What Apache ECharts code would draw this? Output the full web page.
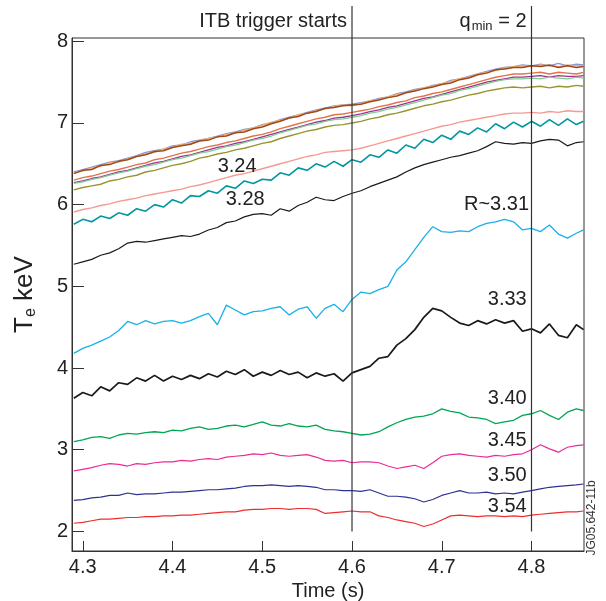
<!DOCTYPE html>
<html>
<head>
<meta charset="utf-8">
<title>Te profiles, ITB trigger</title>
<script src="https://cdn.jsdelivr.net/npm/echarts@6/dist/echarts.min.js"></script>
<style>
  html, body { margin: 0; padding: 0; background: #fff; }
  #chart { width: 606px; height: 601px; }
</style>
</head>
<body>
<div id="chart"></div>
<script>
// time base (s)
const time = [
  4.29, 4.30, 4.31, 4.32, 4.33, 4.34, 4.35, 4.36, 4.37, 4.38,
  4.39, 4.40, 4.41, 4.42, 4.43, 4.44, 4.45, 4.46, 4.47, 4.48,
  4.49, 4.50, 4.51, 4.52, 4.53, 4.54, 4.55, 4.56, 4.57, 4.58,
  4.59, 4.60, 4.61, 4.62, 4.63, 4.64, 4.65, 4.66, 4.67, 4.68,
  4.69, 4.70, 4.71, 4.72, 4.73, 4.74, 4.75, 4.76, 4.77, 4.78,
  4.79, 4.80, 4.81, 4.82, 4.83, 4.84, 4.85, 4.858
];

// Te (keV), one array per ECE channel
const teBlue = [
  6.40, 6.43, 6.46, 6.49, 6.52, 6.54, 6.57, 6.60, 6.64, 6.66,
  6.68, 6.72, 6.73, 6.77, 6.79, 6.81, 6.84, 6.87, 6.89, 6.92,
  6.94, 6.98, 7.00, 7.04, 7.07, 7.10, 7.13, 7.16, 7.18, 7.21,
  7.22, 7.23, 7.25, 7.27, 7.30, 7.32, 7.36, 7.38, 7.41, 7.43,
  7.46, 7.48, 7.52, 7.54, 7.57, 7.60, 7.63, 7.66, 7.68, 7.69,
  7.71, 7.70, 7.72, 7.70, 7.73, 7.70, 7.72, 7.71
];
const teLightOrange = [
  6.39, 6.41, 6.45, 6.47, 6.51, 6.52, 6.56, 6.59, 6.62, 6.64,
  6.68, 6.70, 6.74, 6.75, 6.78, 6.81, 6.83, 6.86, 6.88, 6.91,
  6.94, 6.97, 7.01, 7.03, 7.06, 7.10, 7.12, 7.15, 7.17, 7.20,
  7.22, 7.21, 7.24, 7.27, 7.29, 7.32, 7.35, 7.37, 7.40, 7.43,
  7.45, 7.48, 7.51, 7.54, 7.56, 7.60, 7.62, 7.64, 7.67, 7.69,
  7.70, 7.69, 7.71, 7.70, 7.69, 7.71, 7.70, 7.70
];
const teBrown = [
  6.38, 6.42, 6.43, 6.48, 6.49, 6.53, 6.55, 6.59, 6.61, 6.65,
  6.66, 6.70, 6.72, 6.74, 6.78, 6.79, 6.83, 6.84, 6.88, 6.89,
  6.93, 6.95, 6.99, 7.02, 7.06, 7.08, 7.12, 7.14, 7.18, 7.19,
  7.21, 7.22, 7.23, 7.26, 7.28, 7.31, 7.33, 7.37, 7.39, 7.42,
  7.44, 7.47, 7.49, 7.53, 7.55, 7.59, 7.61, 7.65, 7.66, 7.68,
  7.68, 7.70, 7.69, 7.71, 7.68, 7.70, 7.68, 7.69
];
const tePurple = [
  6.27, 6.29, 6.32, 6.34, 6.37, 6.40, 6.42, 6.45, 6.48, 6.51,
  6.53, 6.56, 6.59, 6.61, 6.64, 6.67, 6.70, 6.72, 6.75, 6.77,
  6.80, 6.83, 6.86, 6.89, 6.92, 6.95, 6.98, 7.01, 7.03, 7.06,
  7.07, 7.09, 7.11, 7.14, 7.16, 7.19, 7.21, 7.24, 7.27, 7.30,
  7.32, 7.35, 7.38, 7.41, 7.44, 7.47, 7.50, 7.52, 7.54, 7.56,
  7.56, 7.57, 7.58, 7.56, 7.58, 7.57, 7.57, 7.58
];
const teLightGreen = [
  6.26, 6.28, 6.31, 6.33, 6.36, 6.39, 6.41, 6.44, 6.47, 6.49,
  6.52, 6.55, 6.57, 6.60, 6.63, 6.65, 6.68, 6.71, 6.73, 6.76,
  6.79, 6.81, 6.84, 6.88, 6.91, 6.94, 6.97, 6.99, 7.02, 7.04,
  7.05, 7.07, 7.09, 7.12, 7.14, 7.17, 7.19, 7.22, 7.25, 7.28,
  7.31, 7.34, 7.36, 7.40, 7.42, 7.45, 7.48, 7.51, 7.53, 7.54,
  7.54, 7.55, 7.54, 7.56, 7.55, 7.54, 7.56, 7.55
];
const teCoral = [
  6.30, 6.33, 6.35, 6.38, 6.41, 6.43, 6.46, 6.49, 6.51, 6.55,
  6.57, 6.60, 6.63, 6.65, 6.68, 6.71, 6.73, 6.76, 6.78, 6.81,
  6.84, 6.86, 6.89, 6.93, 6.96, 6.99, 7.02, 7.05, 7.07, 7.10,
  7.11, 7.13, 7.15, 7.17, 7.20, 7.22, 7.25, 7.27, 7.31, 7.33,
  7.36, 7.38, 7.41, 7.44, 7.47, 7.50, 7.53, 7.56, 7.58, 7.60,
  7.60, 7.61, 7.62, 7.60, 7.62, 7.61, 7.60, 7.62
];
const teOlive = [
  6.18, 6.21, 6.23, 6.25, 6.29, 6.31, 6.34, 6.36, 6.40, 6.42,
  6.45, 6.48, 6.50, 6.53, 6.57, 6.59, 6.62, 6.64, 6.67, 6.69,
  6.72, 6.75, 6.77, 6.81, 6.84, 6.87, 6.90, 6.92, 6.95, 6.97,
  6.98, 7.00, 7.02, 7.05, 7.07, 7.10, 7.12, 7.15, 7.18, 7.21,
  7.23, 7.26, 7.28, 7.31, 7.34, 7.36, 7.39, 7.41, 7.43, 7.44,
  7.43, 7.44, 7.45, 7.43, 7.45, 7.44, 7.46, 7.45
];
const tePink = [
  5.91, 5.94, 5.96, 5.99, 6.01, 6.04, 6.06, 6.08, 6.11, 6.13,
  6.15, 6.17, 6.19, 6.22, 6.24, 6.27, 6.30, 6.33, 6.36, 6.38,
  6.41, 6.44, 6.47, 6.50, 6.53, 6.56, 6.59, 6.61, 6.64, 6.65,
  6.66, 6.67, 6.69, 6.72, 6.75, 6.78, 6.81, 6.84, 6.87, 6.90,
  6.93, 6.96, 6.98, 7.01, 7.03, 7.05, 7.07, 7.09, 7.11, 7.12,
  7.12, 7.13, 7.12, 7.14, 7.13, 7.15, 7.14, 7.14
];
const teTeal = [
  5.76, 5.82, 5.79, 5.86, 5.83, 5.90, 5.87, 5.95, 5.92, 6.00,
  5.97, 6.06, 6.02, 6.11, 6.10, 6.17, 6.14, 6.23, 6.20, 6.29,
  6.26, 6.31, 6.30, 6.39, 6.36, 6.45, 6.42, 6.50, 6.46, 6.53,
  6.47, 6.55, 6.52, 6.61, 6.58, 6.67, 6.63, 6.73, 6.69, 6.80,
  6.76, 6.85, 6.80, 6.90, 6.86, 6.94, 6.89, 6.99, 6.93, 7.01,
  6.95, 7.02, 6.96, 7.04, 6.97, 7.05, 6.98, 7.02
];
const teBlackUpper = [
  5.27, 5.30, 5.33, 5.38, 5.41, 5.46, 5.53, 5.55, 5.54, 5.56,
  5.58, 5.60, 5.62, 5.61, 5.64, 5.69, 5.72, 5.78, 5.80, 5.85,
  5.88, 5.89, 5.87, 5.95, 5.92, 5.99, 6.03, 6.09, 6.06, 6.05,
  6.10, 6.14, 6.17, 6.22, 6.26, 6.30, 6.34, 6.40, 6.45, 6.49,
  6.52, 6.55, 6.58, 6.60, 6.63, 6.66, 6.71, 6.77, 6.75, 6.74,
  6.76, 6.75, 6.78, 6.80, 6.79, 6.72, 6.76, 6.77
];
const teR331 = [
  4.18, 4.24, 4.28, 4.33, 4.38, 4.46, 4.57, 4.53, 4.58, 4.54,
  4.57, 4.58, 4.55, 4.58, 4.63, 4.67, 4.53, 4.77, 4.71, 4.65,
  4.69, 4.70, 4.73, 4.75, 4.65, 4.72, 4.75, 4.61, 4.73, 4.78,
  4.69, 4.84, 4.93, 4.91, 4.96, 5.00, 5.20, 5.30, 5.45, 5.60,
  5.73, 5.67, 5.66, 5.68, 5.67, 5.73, 5.77, 5.79, 5.82, 5.79,
  5.69, 5.71, 5.67, 5.75, 5.64, 5.59, 5.65, 5.69
];
const teR333 = [
  3.63, 3.70, 3.66, 3.77, 3.72, 3.82, 3.80, 3.88, 3.84, 3.91,
  3.84, 3.90, 3.86, 3.91, 3.87, 3.93, 3.89, 3.96, 3.92, 3.98,
  3.90, 3.95, 3.91, 3.97, 3.92, 3.95, 3.88, 3.94, 3.90, 3.93,
  3.84, 3.94, 3.98, 4.02, 4.12, 4.14, 4.28, 4.36, 4.47, 4.62,
  4.73, 4.70, 4.62, 4.55, 4.52, 4.58, 4.54, 4.59, 4.55, 4.58,
  4.45, 4.48, 4.43, 4.54, 4.40, 4.37, 4.53, 4.47
];
const teR340 = [
  3.10, 3.12, 3.15, 3.16, 3.14, 3.18, 3.20, 3.19, 3.21, 3.22,
  3.21, 3.24, 3.23, 3.26, 3.28, 3.25, 3.26, 3.29, 3.30, 3.28,
  3.31, 3.34, 3.30, 3.29, 3.32, 3.29, 3.28, 3.30, 3.25, 3.23,
  3.22, 3.20, 3.18, 3.19, 3.22, 3.28, 3.33, 3.37, 3.40, 3.41,
  3.44, 3.50, 3.47, 3.45, 3.40, 3.39, 3.37, 3.32, 3.34, 3.36,
  3.42, 3.44, 3.48, 3.42, 3.37, 3.46, 3.50, 3.48
];
const teR345 = [
  2.74, 2.76, 2.78, 2.81, 2.83, 2.82, 2.80, 2.83, 2.82, 2.84,
  2.85, 2.85, 2.87, 2.86, 2.88, 2.89, 2.88, 2.91, 2.92, 2.93,
  2.95, 2.94, 2.96, 2.93, 2.92, 2.93, 2.94, 2.91, 2.87, 2.86,
  2.87, 2.84, 2.85, 2.85, 2.84, 2.80, 2.77, 2.79, 2.81, 2.77,
  2.84, 2.92, 2.94, 2.95, 2.93, 2.92, 2.91, 2.93, 2.92, 2.94,
  2.95, 3.00, 3.06, 3.01, 2.97, 3.03, 3.05, 3.06
];
const teR350 = [
  2.38, 2.39, 2.41, 2.42, 2.44, 2.44, 2.47, 2.45, 2.46, 2.46,
  2.47, 2.48, 2.48, 2.49, 2.50, 2.51, 2.51, 2.52, 2.53, 2.55,
  2.56, 2.56, 2.57, 2.56, 2.55, 2.56, 2.55, 2.54, 2.51, 2.51,
  2.50, 2.50, 2.49, 2.51, 2.47, 2.43, 2.43, 2.42, 2.40, 2.36,
  2.39, 2.44, 2.47, 2.50, 2.47, 2.47, 2.48, 2.46, 2.47, 2.46,
  2.48, 2.50, 2.52, 2.54, 2.55, 2.56, 2.57, 2.58
];
const teR354 = [
  2.10, 2.11, 2.13, 2.15, 2.15, 2.16, 2.17, 2.17, 2.18, 2.18,
  2.19, 2.19, 2.20, 2.20, 2.21, 2.22, 2.23, 2.24, 2.24, 2.26,
  2.27, 2.27, 2.28, 2.28, 2.27, 2.28, 2.28, 2.27, 2.22, 2.23,
  2.24, 2.25, 2.24, 2.24, 2.19, 2.17, 2.14, 2.12, 2.10, 2.06,
  2.09, 2.14, 2.19, 2.20, 2.19, 2.18, 2.19, 2.19, 2.18, 2.19,
  2.18, 2.20, 2.21, 2.22, 2.23, 2.24, 2.24, 2.25
];

const xTicks = [4.3, 4.4, 4.5, 4.6, 4.7, 4.8];
const yTicks = [2, 3, 4, 5, 6, 7, 8];
const markerTimes = [4.6, 4.8];
const radiusLabels = ['3.24', '3.28', 'R~3.31', '3.33', '3.40', '3.45', '3.50', '3.54'];

const FONT = '"Liberation Sans", Arial, Helvetica, sans-serif';
const INK = '#222';

const chart = echarts.init(document.getElementById('chart'), null, { renderer: 'canvas' });

// noisier channels get a slightly heavier stroke, as in the original plot
const traces = [
  { data: teBlue, color: '#8c93d8', w: 1.3 },
  { data: teLightOrange, color: '#f6b066', w: 1.3 },
  { data: teBrown, color: '#9a4a1c', w: 1.5 },
  { data: tePurple, color: '#a03092', w: 1.3 },
  { data: teLightGreen, color: '#7ccf90', w: 1.3 },
  { data: teCoral, color: '#e0744a', w: 1.4 },
  { data: teOlive, color: '#9a9430', w: 1.4 },
  { data: tePink, color: '#f59a92', w: 1.4 },
  { data: teTeal, color: '#00979e', w: 1.6 },
  { data: teBlackUpper, color: '#1a1a1a', w: 1.2 },
  { data: teR331, color: '#1ab0e8', w: 1.3 },
  { data: teR333, color: '#1a1a1a', w: 1.7 },
  { data: teR340, color: '#00a651', w: 1.3 },
  { data: teR345, color: '#ec2b96', w: 1.2 },
  { data: teR350, color: '#2e3192', w: 1.2 },
  { data: teR354, color: '#ed2e2e', w: 1.2 }
];

const pairs = vals => time.map((t, i) => [t, vals[i]]);

const axisLine = { show: true, lineStyle: { color: '#333', width: 1 } };

chart.setOption({
  animation: false,
  grid: {
    left: 72, right: 22, top: 38, bottom: 50,
    show: true, borderColor: '#333', borderWidth: 1,
    outerBoundsMode: 'none'
  },
  xAxis: {
    type: 'value',
    min: 4.288,
    max: 4.8585,
    name: 'Time (s)',
    nameLocation: 'middle',
    nameGap: 26,
    nameTextStyle: { fontFamily: FONT, fontSize: 20, color: INK },
    axisLine,
    axisTick: { show: true, inside: true, length: 10, customValues: xTicks, lineStyle: { color: '#333' } },
    axisLabel: { customValues: xTicks, formatter: v => v.toFixed(1), fontFamily: FONT, fontSize: 20, color: INK, margin: 6 },
    splitLine: { show: false }
  },
  yAxis: {
    type: 'value',
    min: 1.76,
    max: 8.04,
    name: '{a|T}{s|e}{a| keV}',
    nameLocation: 'middle',
    nameRotate: 90,
    nameGap: 33,
    nameTextStyle: {
      fontFamily: FONT, color: INK,
      rich: {
        a: { fontFamily: FONT, fontSize: 26, color: INK },
        s: { fontFamily: FONT, fontSize: 16, color: INK, padding: [13, 0, 0, 0] }
      }
    },
    axisLine,
    axisTick: { show: true, inside: true, length: 12, customValues: yTicks, lineStyle: { color: '#333' } },
    axisLabel: { customValues: yTicks, fontFamily: FONT, fontSize: 20, color: INK, margin: 4 },
    splitLine: { show: false }
  },
  series: traces.map(tr => ({
    type: 'line',
    data: pairs(tr.data),
    symbol: 'none',
    clip: true,
    lineStyle: { color: tr.color, width: tr.w },
    itemStyle: { color: tr.color },
    emphasis: { disabled: true },
    silent: true
  }))
});

// annotations placed through the chart's own coordinate system
const toPx = (t, v) => chart.convertToPixel({ gridIndex: 0 }, [t, v]);
const labelAnchors = [
  [4.472, 6.47], [4.481, 6.06], [4.761, 6.00], [4.773, 4.84],
  [4.773, 3.63], [4.773, 3.11], [4.773, 2.69], [4.773, 2.30]
];

const graphics = [];
markerTimes.forEach(t => {
  const bottom = toPx(t, 2.0);
  graphics.push({
    type: 'line', z: 50, silent: true,
    shape: { x1: bottom[0], y1: 6, x2: bottom[0], y2: bottom[1] },
    style: { stroke: '#333', lineWidth: 1.2 }
  });
});

const itbX = toPx(markerTimes[0], 8)[0];
const qX = toPx(markerTimes[1], 8)[0];
graphics.push({
  type: 'text', z: 60, silent: true, x: itbX - 5, y: 21,
  style: { text: 'ITB trigger starts', font: '20px ' + FONT, fill: INK, align: 'right', verticalAlign: 'middle' }
});
graphics.push({
  type: 'text', z: 60, silent: true, x: qX - 5, y: 21,
  style: {
    text: '{a|q}{s|min}{a| = 2}', align: 'right', verticalAlign: 'middle', fill: INK,
    rich: {
      a: { fontFamily: FONT, fontSize: 20, fill: INK },
      s: { fontFamily: FONT, fontSize: 13, fill: INK, padding: [11, 0, 0, 1] }
    }
  }
});

radiusLabels.forEach((txt, i) => {
  const p = toPx(labelAnchors[i][0], labelAnchors[i][1]);
  graphics.push({
    type: 'text', z: 60, silent: true, x: p[0], y: p[1],
    style: { text: txt, font: '20px ' + FONT, fill: INK, align: 'center', verticalAlign: 'middle' }
  });
});

graphics.push({
  type: 'text', z: 60, silent: true, x: 592, y: 518, rotation: Math.PI / 2,
  style: { text: 'JG05.642-11b', font: '12px ' + FONT, fill: '#333', align: 'center', verticalAlign: 'middle' }
});

chart.setOption({ graphic: graphics });
</script>
</body>
</html>
